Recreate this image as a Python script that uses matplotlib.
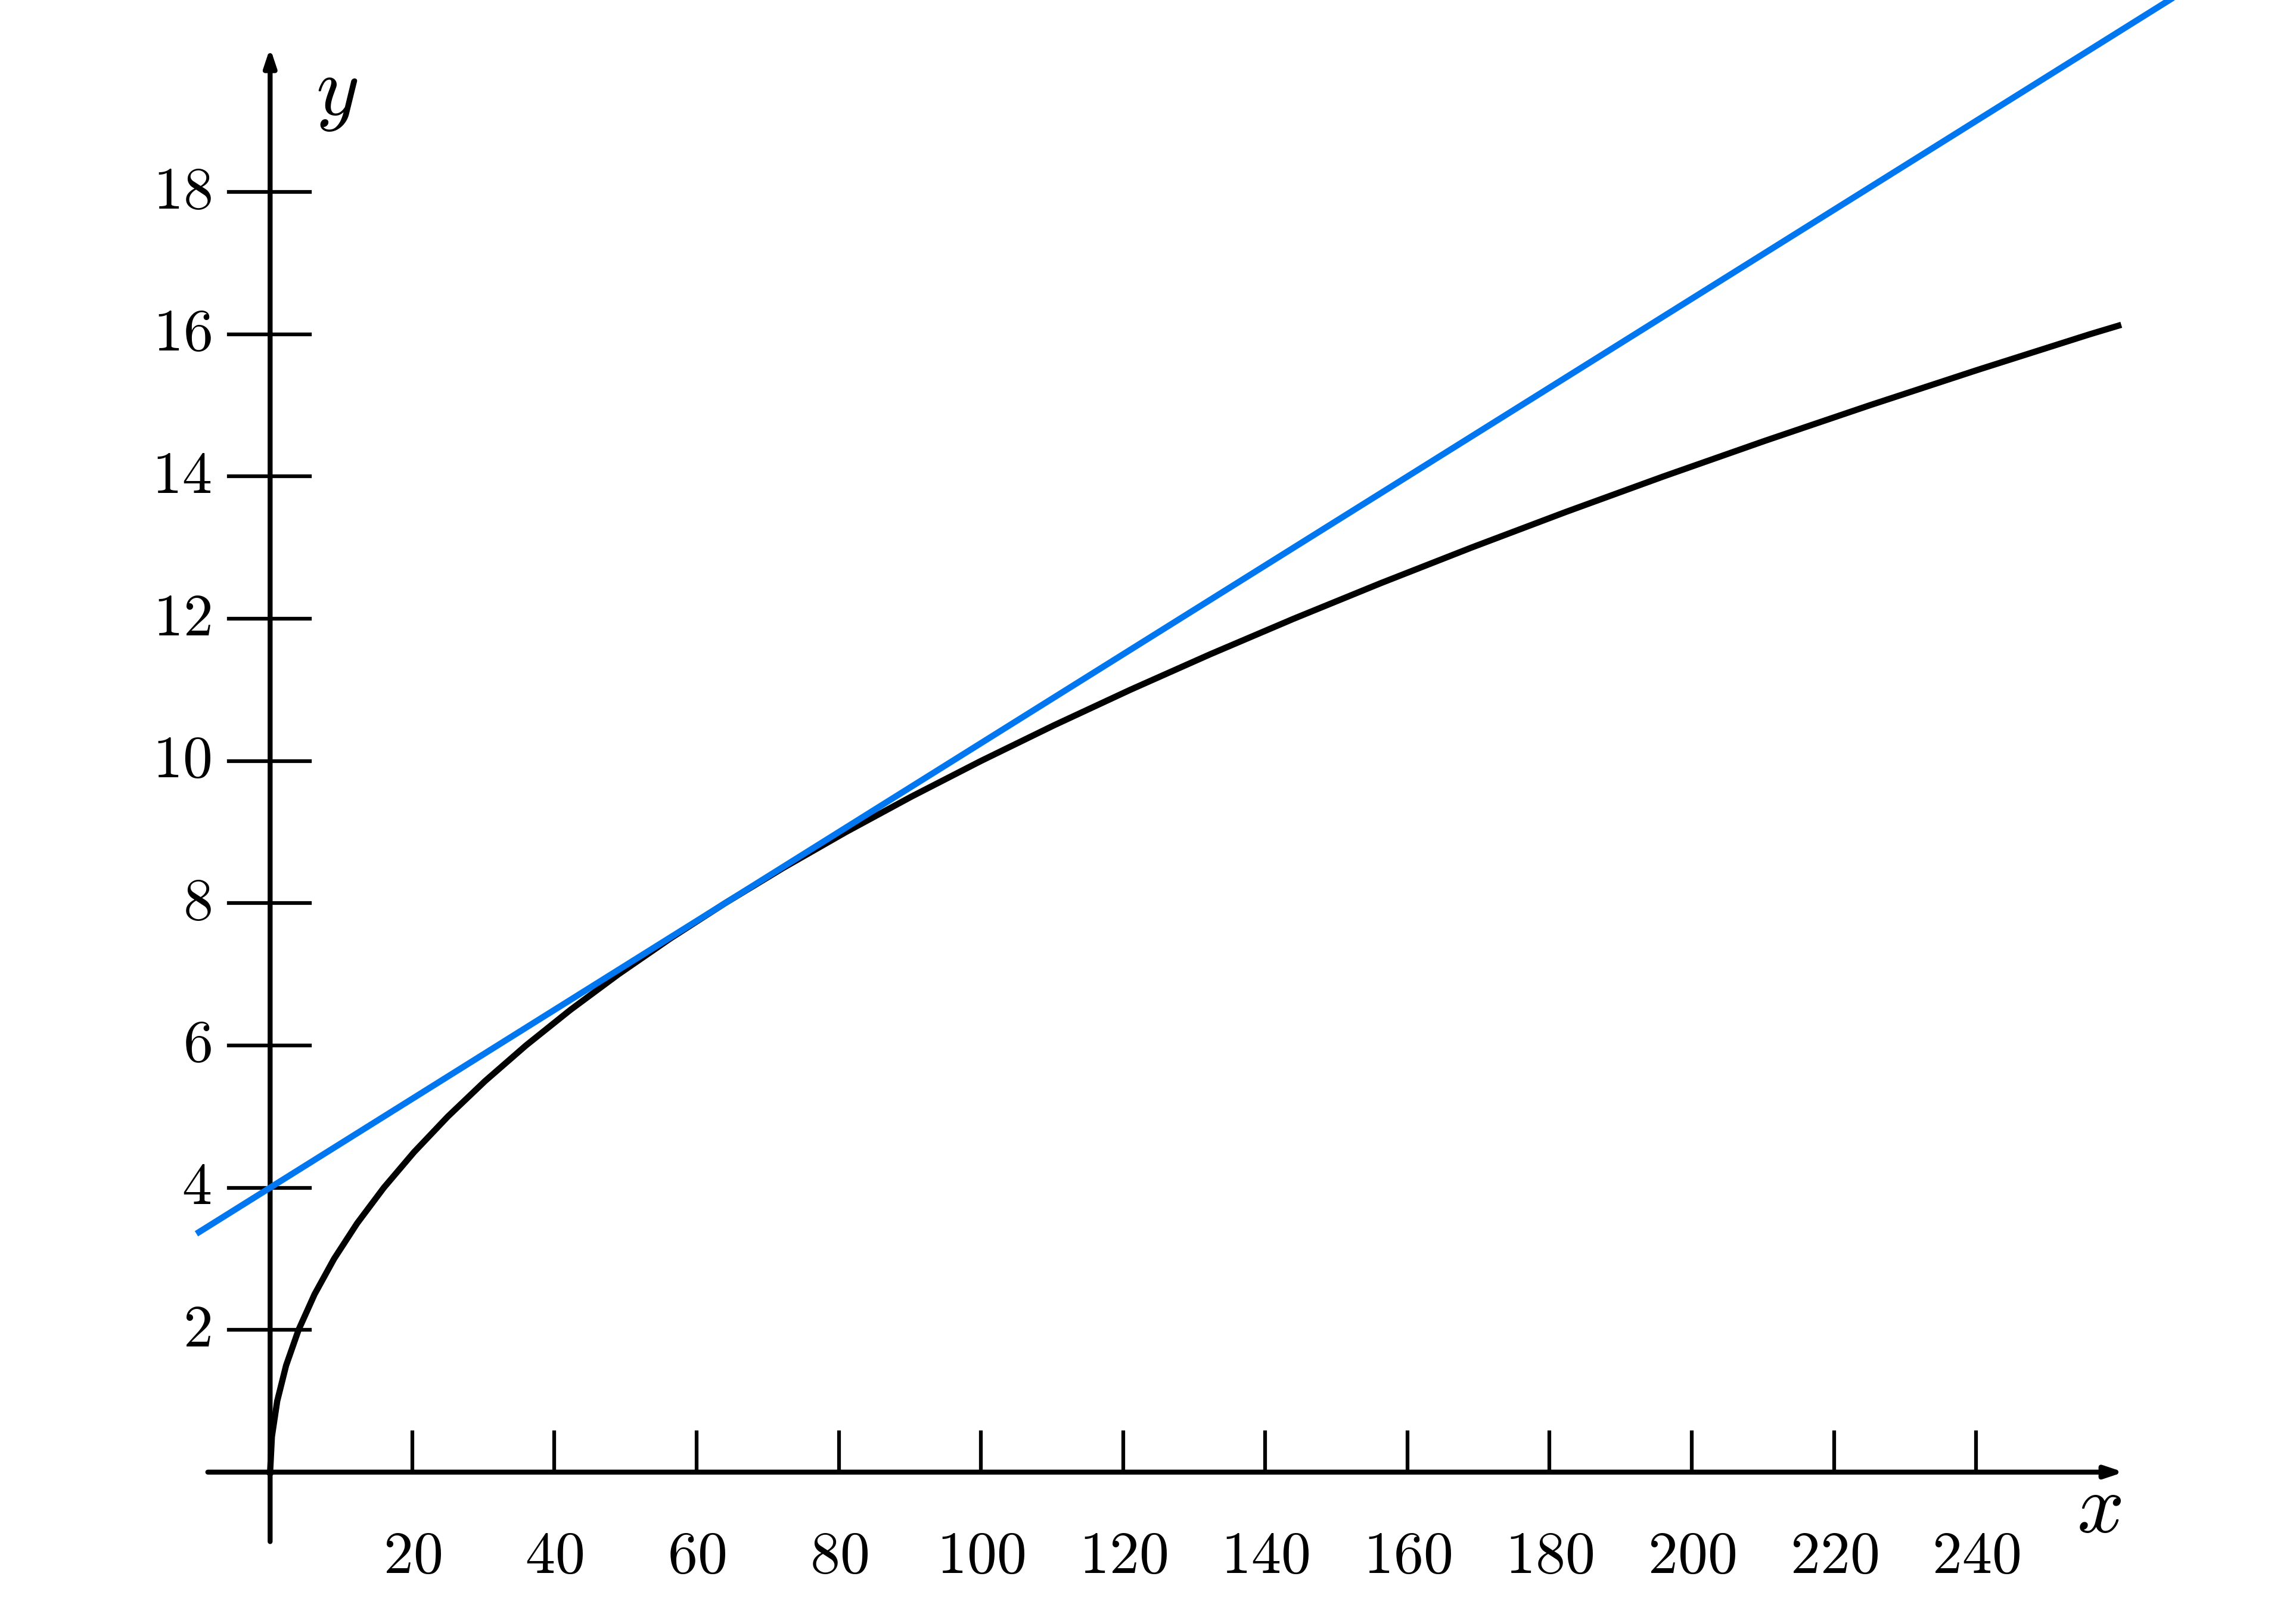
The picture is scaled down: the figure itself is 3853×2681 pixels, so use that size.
import matplotlib
matplotlib.use("Agg")
import matplotlib.pyplot as plt

plt.rcParams['mathtext.fontset'] = 'cm'

curve_x = [0, 0.25, 1, 2.25, 4, 6.25, 9, 12.25, 16, 20.25, 25, 30.25, 36, 42.25, 49, 56.25, 64, 72.25, 81,
           90.25, 100, 110.25, 121, 132.25, 144, 156.25, 169, 182.25, 196, 210.25, 225, 240.25, 256, 260]
curve_y = [0, 0.5, 1, 1.5, 2, 2.5, 3, 3.5, 4, 4.5, 5, 5.5, 6, 6.5, 7, 7.5, 8, 8.5, 9,
           9.5, 10, 10.5, 11, 11.5, 12, 12.5, 13, 13.5, 14, 14.5, 15, 15.5, 16, 16.12]
tangent_x = [-10, 270]
tangent_y = [3.375, 20.875]
xticks = [20, 40, 60, 80, 100, 120, 140, 160, 180, 200, 220, 240]
yticks = [2, 4, 6, 8, 10, 12, 14, 16, 18]

fig = plt.figure(figsize=(38.53, 26.81), dpi=100)
ax = fig.add_axes([0, 0, 1, 1])
ax.set_xlim(-38, 285)
ax.set_ylim(-1.77, 20.7)
ax.axis('off')

lw = 7.5
ax.plot(curve_x, curve_y, color='black', lw=lw, zorder=3)
ax.plot(tangent_x, tangent_y, color='#0077f0', lw=lw, zorder=4)

# axes with arrows
ax.annotate('', xy=(261, 0), xytext=(-9, 0),
            arrowprops=dict(arrowstyle='-|>,head_length=1.8,head_width=0.6', color='black', lw=6))
ax.annotate('', xy=(0, 20.05), xytext=(0, -1.0),
            arrowprops=dict(arrowstyle='-|>,head_length=1.8,head_width=0.6', color='black', lw=6))

for t in xticks:
    ax.plot([t, t], [0, 0.56], color='black', lw=4.5)
    ax.text(t, -1.19, r'$%d$' % t, ha='center', va='center', fontsize=72)
for t in yticks:
    ax.plot([-5.8, 5.6], [t, t], color='black', lw=4.5)
    ax.text(-8.3, t, r'$%d$' % t, ha='right', va='center', fontsize=72)

ax.text(257.3, -0.52, r'$x$', ha='center', va='center', fontsize=100)
ax.text(9.4, 19.4, r'$y$', ha='center', va='center', fontsize=100)

fig.savefig('out.png', dpi=100)
